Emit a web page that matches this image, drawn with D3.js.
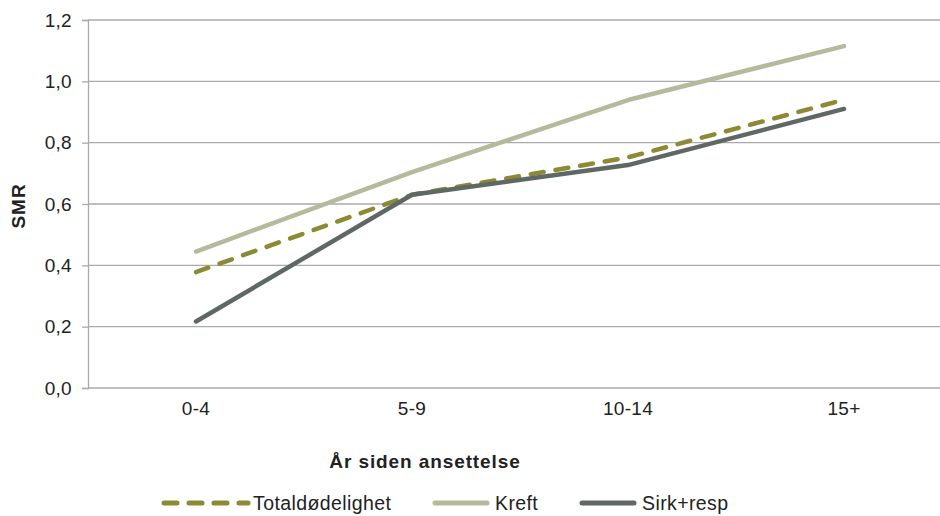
<!DOCTYPE html>
<html>
<head>
<meta charset="utf-8">
<script src="https://cdn.jsdelivr.net/npm/d3@7"></script>
<style>
  html, body { margin: 0; padding: 0; background: #fff; }
  svg { display: block; font-family: "Liberation Sans", Arial, sans-serif; }
</style>
</head>
<body>
<svg id="chart" width="940" height="516"></svg>
<script>
// Years since employment (x categories)
const categories = ["0-4", "5-9", "10-14", "15+"];

// SMR per series
const totalValues = [0.378, 0.630, 0.752, 0.940];
const kreftValues = [0.445, 0.704, 0.939, 1.115];
const sirkValues  = [0.217, 0.630, 0.727, 0.910];

const seriesNames = ["Totaldødelighet", "Kreft", "Sirk+resp"];
const yTicks = [0, 0.2, 0.4, 0.6, 0.8, 1.0, 1.2];

const series = [
  { name: seriesNames[0], values: totalValues, color: "#8c8a34", dash: "13,12" },
  { name: seriesNames[1], values: kreftValues, color: "#b6b99b", dash: null },
  { name: seriesNames[2], values: sirkValues,  color: "#5f6864", dash: null }
];

const svg = d3.select("#chart");
const plotLeft = 88, plotTop = 20, plotBottom = 388, plotRight = 952;

const x = d3.scaleBand().domain(categories).range([plotLeft, plotRight]);
const y = d3.scaleLinear().domain([0, 1.2]).range([plotBottom, plotTop]);
const fmt = v => d3.format(".1f")(v).replace(".", ",");

// Horizontal gridlines
svg.append("g")
  .selectAll("line")
  .data(yTicks)
  .join("line")
  .attr("x1", plotLeft).attr("x2", 940)
  .attr("y1", d => y(d)).attr("y2", d => y(d))
  .attr("stroke", "#aaaaaa")
  .attr("stroke-width", 1.3);

// Y axis with tick marks and labels
const yAxis = svg.append("g")
  .attr("transform", `translate(${plotLeft},0)`)
  .call(d3.axisLeft(y).tickValues(yTicks).tickFormat(fmt).tickSize(6).tickPadding(10));
yAxis.attr("font-size", 19).attr("font-family", "Liberation Sans, Arial, sans-serif");
yAxis.select(".domain").attr("stroke", "#aaaaaa").attr("stroke-width", 1.3);
yAxis.selectAll(".tick line").attr("stroke", "#aaaaaa").attr("stroke-width", 1.3);
yAxis.selectAll(".tick text").attr("fill", "#222").attr("letter-spacing", 0.3);

// X axis labels
const xAxis = svg.append("g")
  .attr("transform", `translate(0,${plotBottom})`)
  .call(d3.axisBottom(x).tickSize(0).tickPadding(14));
xAxis.attr("font-size", 19).attr("font-family", "Liberation Sans, Arial, sans-serif");
xAxis.select(".domain").remove();
xAxis.selectAll(".tick text").attr("fill", "#222").attr("letter-spacing", 0.3);

// Axis titles
svg.append("text")
  .attr("x", 425).attr("y", 468)
  .attr("text-anchor", "middle")
  .attr("font-size", 19).attr("font-weight", "bold").attr("fill", "#222")
  .attr("letter-spacing", 0.9)
  .text("År siden ansettelse");

svg.append("text")
  .attr("transform", "translate(25,206) rotate(-90)")
  .attr("text-anchor", "middle")
  .attr("font-size", 19).attr("font-weight", "bold").attr("fill", "#222")
  .attr("letter-spacing", 1)
  .text("SMR");

// Series lines
const line = d3.line()
  .x((d, i) => x(categories[i]) + x.bandwidth() / 2)
  .y(d => y(d));

svg.append("g")
  .selectAll("path")
  .data(series)
  .join("path")
  .attr("d", d => line(d.values))
  .attr("fill", "none")
  .attr("stroke", d => d.color)
  .attr("stroke-width", 4.5)
  .attr("stroke-linecap", "round")
  .attr("stroke-linejoin", "round")
  .attr("stroke-dasharray", d => d.dash);

// Legend
const legendX = [162, 433, 580];
const legendY = 503;
const lg = svg.append("g")
  .selectAll("g")
  .data(series)
  .join("g")
  .attr("transform", (d, i) => `translate(${legendX[i]},${legendY})`);
lg.append("line")
  .attr("x1", 2).attr("x2", d => d.dash ? 86 : 54)
  .attr("y1", 0).attr("y2", 0)
  .attr("stroke", d => d.color)
  .attr("stroke-width", 5)
  .attr("stroke-linecap", "round")
  .attr("stroke-dasharray", d => d.dash);
lg.append("text")
  .attr("x", d => d.dash ? 91 : 62)
  .attr("y", 0)
  .attr("dy", "0.35em")
  .attr("font-size", 19.5).attr("fill", "#222")
  .attr("letter-spacing", 0.4)
  .text(d => d.name);
</script>
</body>
</html>
